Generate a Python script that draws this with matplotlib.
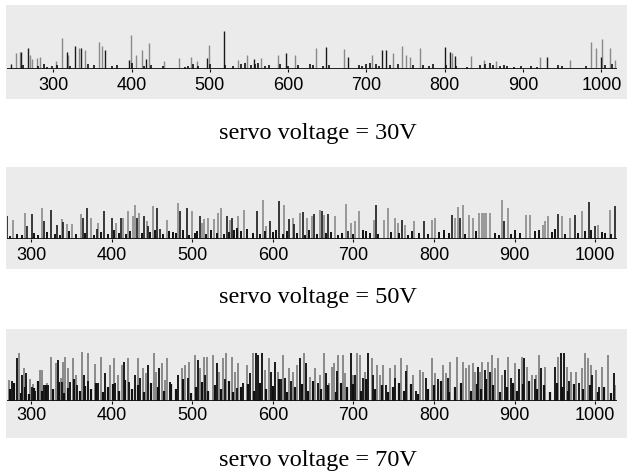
import matplotlib.pyplot as plt

# peak positions and heights for each servo voltage
# light (grey) peaks and dark peaks are kept as separate series
v30_light_x = [253, 258, 270.6, 273, 279, 283, 303, 311.5, 319, 333, 341, 358.7, 361.7, 399, 406,
               413.7, 422.6, 441.8, 461, 476, 484, 498.4, 536, 547, 566, 586.5, 608.6, 635, 671,
               706.5, 734, 745.7, 751, 756, 768, 809.5, 834, 850, 865, 921.5, 960, 986.6, 993.8,
               1001, 1011, 1017]
v30_light_h = [16, 17, 14, 10, 11, 12, 8, 31, 14, 21, 19, 27, 23, 34, 14,
               19, 26, 8, 11, 12, 8, 24, 9, 14, 11, 14, 14, 21, 20,
               14, 16, 23, 14, 12, 21, 16, 13, 9, 8, 12, 9, 27, 21,
               30, 21, 9]
v30_dark_x = [245.5, 259.5, 268, 317, 327.7, 336, 366, 397, 418, 497, 518.4, 556, 596.7, 649,
              676.8, 720, 725.6, 800, 806.6, 813, 930, 999.4]
v30_dark_h = [5, 17, 21, 17, 23, 21, 19, 9, 10, 11, 38, 10, 16, 22,
              12, 19, 19, 22, 17, 13, 12, 12]
v30_base_x = [262, 280, 288, 292, 298, 305, 321, 345, 352, 375, 382, 401, 416, 425, 440, 468, 472,
              478, 485, 500, 520, 530, 540, 545, 552, 558, 562, 570, 576, 590, 600, 612, 628,
              632, 645, 652, 690, 694, 700, 704, 712, 716, 730, 740, 760, 772, 780, 785, 802,
              815, 828, 845, 852, 858, 862, 870, 876, 880, 888, 898, 910, 918, 945, 950, 980,
              1005, 1014]
v30_base_h = [4, 3, 5, 2, 3, 4, 3, 5, 4, 3, 4, 6, 3, 4, 3, 2, 3,
              5, 3, 5, 4, 3, 5, 6, 4, 5, 6, 3, 4, 5, 3, 4, 5,
              4, 3, 4, 4, 3, 5, 6, 5, 3, 4, 5, 4, 4, 3, 5, 4,
              3, 2, 4, 5, 6, 4, 3, 4, 3, 2, 3, 3, 2, 4, 3, 3,
              4, 5]

v50_light_x = [277, 292.6, 313, 338, 345, 351, 362, 374, 383.5, 405, 414, 420, 426, 429, 434.4,
               444, 451, 468, 482.8, 499, 512, 515, 520, 527, 532, 535.7, 547, 557, 564.6,
               587.5, 592, 614, 624.7, 633, 642, 648, 658.6, 663, 677, 690.8, 697, 702, 707,
               726, 738, 742.5, 751.6, 755, 764, 775, 797, 801, 826, 829.4, 836, 843.8, 848.7,
               856, 859, 862, 865, 869.5, 884, 892, 914, 919, 935, 938, 941.8, 958.4, 968.7,
               983, 1003, 1018]
v50_light_h = [19, 26, 31, 20, 15, 15, 25, 21, 16, 16, 21, 28, 23, 34, 26,
               18, 33, 19, 36, 28, 16, 20, 21, 20, 26, 31, 19, 23, 29,
               39, 13, 34, 21, 26, 21, 23, 29, 24, 23, 35, 16, 18, 28,
               19, 19, 31, 21, 16, 14, 18, 19, 21, 21, 32, 34, 24, 21,
               26, 26, 26, 26, 26, 39, 31, 24, 24, 14, 18, 23, 23, 21,
               28, 14, 29]
v50_dark_x = [270, 295, 301, 316.5, 325, 332.6, 340, 364, 369, 382, 390.6, 400, 411.7, 431, 440,
              445, 456.7, 460, 485, 493, 509.7, 542.8, 549, 580, 596, 608, 620, 626, 637, 651,
              661, 668.9, 693, 727.6, 760, 787.6, 822, 832, 887, 954, 975, 992.7, 1000, 1024.6]
v50_dark_h = [23, 13, 25, 18, 29, 14, 17, 21, 31, 10, 28, 21, 21, 21, 23,
              13, 31, 10, 28, 31, 23, 23, 21, 28, 18, 38, 20, 15, 27, 25,
              28, 25, 8, 34, 19, 18, 24, 21, 18, 25, 24, 37, 13, 33]
v50_base_x = [274, 283, 289, 304, 309, 320, 329, 336, 347, 356, 367, 378, 387, 395, 403, 409,
              418, 423, 437, 448, 454, 463, 471, 476, 480, 489, 496, 503, 506, 517, 523, 530,
              539, 545, 552, 555, 561, 568, 575, 584, 590, 600, 604, 612, 617, 630, 640, 645,
              655, 666, 672, 681, 686, 699, 712, 716, 721, 731, 746, 757, 768, 772, 781, 792,
              806, 812, 818, 838, 852, 875, 880, 896, 901, 907, 925, 930, 946, 950, 963, 979,
              987, 995, 1008, 1012, 1020]
v50_base_h = [3, 5, 4, 6, 4, 7, 5, 4, 8, 5, 6, 4, 7, 5, 9, 6,
              5, 8, 6, 7, 9, 5, 8, 7, 6, 9, 4, 6, 8, 5, 9, 6,
              5, 7, 9, 11, 8, 10, 6, 5, 8, 7, 9, 5, 8, 6, 4, 9,
              5, 6, 7, 4, 6, 5, 9, 8, 6, 5, 7, 6, 4, 8, 6, 5,
              7, 9, 6, 5, 8, 6, 4, 5, 9, 6, 8, 9, 7, 10, 5, 6,
              8, 9, 7, 6, 5]

v70_light_x = [272, 285, 290.5, 298, 302, 311, 314, 320, 325, 330.6, 337, 339, 342, 345.5, 351.7,
               356, 363, 370, 379, 386.5, 398, 403, 408, 412.5, 420.7, 432, 438.5, 442, 452.6,
               455, 462, 466, 469, 487, 491, 496.4, 503.5, 510, 514.6, 518, 526, 533, 537.8,
               542, 549, 553, 557, 567.6, 575, 590, 595.7, 606, 612, 620.5, 625, 629.6, 638,
               646, 652, 658.6, 663.5, 669, 673, 676, 681, 686.7, 690, 699, 704, 708, 714,
               722.7, 729, 733, 737, 745, 751.6, 758.7, 767, 774, 782.6, 786, 797, 801, 811.5,
               815, 820, 828, 836, 840, 843.8, 848, 851, 857, 860, 866.6, 871.6, 875, 879.8,
               884, 892, 900.5, 908.8, 915.8, 921, 926, 930.6, 937.7, 954, 965, 970, 976, 983,
               987, 991.4, 995, 1001, 1008, 1016, 1025]
v70_light_h = [21, 48, 33, 22, 17, 31, 31, 18, 44, 38, 23, 39, 44, 33, 43,
               26, 49, 48, 37, 44, 36, 43, 26, 36, 43, 43, 33, 28, 48,
               29, 38, 21, 43, 33, 36, 39, 46, 33, 44, 44, 46, 29, 43,
               48, 44, 29, 38, 36, 48, 31, 43, 29, 46, 33, 29, 36, 48,
               24, 33, 26, 48, 18, 34, 38, 46, 46, 28, 26, 48, 46, 29,
               43, 36, 26, 36, 33, 36, 43, 36, 26, 31, 29, 43, 28, 36,
               28, 39, 44, 39, 33, 36, 38, 29, 29, 39, 39, 46, 33, 43,
               26, 44, 38, 44, 34, 26, 26, 46, 34, 44, 34, 29, 29, 33,
               48, 43, 36, 31, 34, 46, 16]
v70_dark_x = [276, 282, 288, 294, 301, 305, 316, 321, 333, 338, 348, 357, 365, 371, 383, 392,
              404, 415.8, 422, 429, 435, 445.5, 459, 472, 482.8, 494, 507.6, 516, 530, 540,
              555, 563, 572, 579, 582, 586, 597, 602.7, 610, 615, 623, 633, 641, 656, 666, 680,
              696.6, 702, 712, 718.5, 724, 740, 752, 765, 778, 790, 805, 817, 833, 854, 863,
              869, 888, 896, 905, 912, 925, 933, 950, 957, 961, 968, 980, 996, 1005, 1023]
v70_dark_h = [20, 43, 26, 28, 14, 10, 16, 16, 41, 19, 19, 16, 26, 20, 18, 28,
              18, 39, 19, 26, 23, 36, 33, 19, 26, 23, 41, 26, 38, 22,
              13, 18, 28, 48, 46, 48, 29, 39, 22, 23, 20, 43, 38, 18, 28, 30,
              48, 26, 23, 48, 26, 16, 23, 30, 10, 23, 22, 23, 17, 34, 31,
              29, 31, 23, 32, 43, 22, 33, 34, 48, 48, 20, 18, 26, 14, 28]
v70_base_x = [274, 279, 287, 292, 297, 304, 309, 313, 318, 327, 335, 341, 346, 353, 360, 367,
              374, 381, 389, 395, 401, 409, 417, 425, 432, 440, 449, 457, 465, 474, 480, 488,
              498, 505, 512, 520, 528, 535, 545, 551, 560, 569, 577, 584, 592, 600, 608, 618,
              627, 636, 644, 650, 660, 668, 678, 684, 692, 700, 709, 716, 727, 735, 743, 749,
              756, 763, 771, 780, 793, 800, 808, 818, 826, 834, 846, 853, 858, 864, 873, 882,
              890, 898, 903, 910, 918, 928, 936, 944, 952, 959, 966, 974, 985, 993, 1003, 1011,
              1019]
v70_base_h = [12, 18, 8, 14, 7, 13, 20, 10, 16, 12, 19, 8, 13, 22, 10, 15,
              12, 18, 9, 14, 17, 10, 21, 12, 16, 9, 18, 14, 10, 17, 12, 22,
              8, 14, 19, 10, 16, 12, 20, 9, 14, 17, 10, 18, 12, 15, 22, 9,
              14, 17, 10, 20, 12, 16, 9, 18, 14, 17, 10, 22, 12, 16, 9, 14,
              18, 10, 17, 7, 12, 16, 20, 9, 14, 18, 10, 17, 12, 22, 16, 9,
              14, 18, 10, 17, 20, 12, 16, 9, 18, 14, 10, 17, 12, 16, 9, 14,
              8]

voltages = ["30V", "50V", "70V"]
tick_values = [300, 400, 500, 600, 700, 800, 900, 1000]

W, H = 627, 473
fig = plt.figure(figsize=(W / 100, H / 100), dpi=100)
fig.patch.set_facecolor("white")


def frac(x0, y_top, w, h):
    # pixel box (top-left origin) -> figure fraction rect
    return [x0 / W, (H - y_top - h) / H, w / W, h / H]


# panel layouts in pixels: grey band top/bottom, baseline row, x-limits, caption baseline
panels = [
    dict(band=(5, 99), base=69, xlim=(241, 1020), cap=139, pad=3.0, lw=1.0,
         light=(v30_light_x, v30_light_h), dark=(v30_dark_x, v30_dark_h),
         low=(v30_base_x, v30_base_h)),
    dict(band=(167, 269), base=239, xlim=(270, 1027), cap=303, pad=3.0, lw=1.2,
         light=(v50_light_x, v50_light_h), dark=(v50_dark_x, v50_dark_h),
         low=(v50_base_x, v50_base_h)),
    dict(band=(329, 438), base=401, xlim=(270, 1027), cap=466, pad=1.5, lw=1.4,
         light=(v70_light_x, v70_light_h), dark=(v70_dark_x, v70_dark_h),
         low=(v70_base_x, v70_base_h)),
]

for p, volt in zip(panels, voltages):
    top, bottom = p["band"]
    # grey band behind plot and tick labels
    bg = fig.add_axes(frac(6, top, 621, bottom - top))
    bg.set_facecolor("#ebebeb")
    bg.set_xticks([])
    bg.set_yticks([])
    for s in bg.spines.values():
        s.set_visible(False)
    bg.set_zorder(0)

    plot_h = p["base"] - top
    ax = fig.add_axes(frac(7, top, 610, plot_h))
    ax.set_zorder(1)
    ax.patch.set_alpha(0)
    ax.set_xlim(*p["xlim"])
    ax.set_ylim(0, plot_h)

    ax.vlines(p["light"][0], 0, p["light"][1], color="#8a8a8a", lw=p["lw"])
    ax.vlines(p["dark"][0], 0, p["dark"][1], color="#1a1a1a", lw=p["lw"])
    ax.vlines(p["low"][0], 0, p["low"][1], color="#111111", lw=p["lw"] + 0.2)
    ax.axhline(0, color="#111111", lw=1.3)

    for s in ax.spines.values():
        s.set_visible(False)
    ax.set_yticks([])
    ax.set_xticks(tick_values)
    ax.set_xticklabels([str(t) for t in tick_values], family="Liberation Sans", fontsize=13)
    ax.tick_params(axis="x", length=2.5, width=0.8, color="#111111", pad=p["pad"])

    fig.text(318 / W, (H - p["cap"]) / H, "servo voltage = " + volt,
             family="Liberation Serif", fontsize=17.5, ha="center", va="baseline")

fig.savefig("out.png", dpi=100)
